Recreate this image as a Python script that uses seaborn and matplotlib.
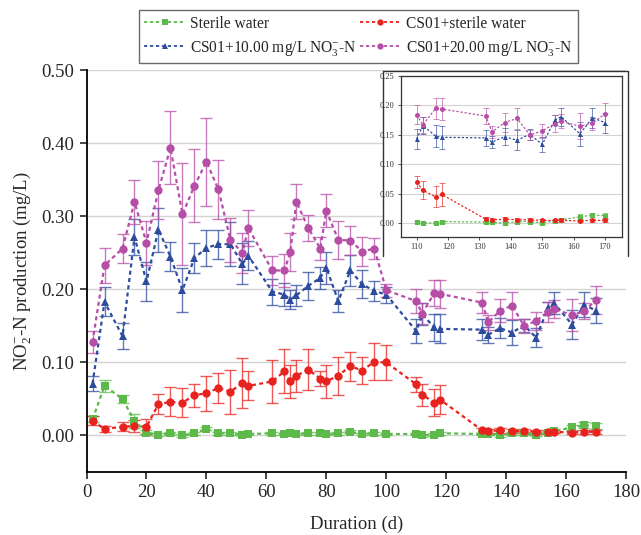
import numpy as np
import pandas as pd
import matplotlib
matplotlib.use("Agg")
import matplotlib.pyplot as plt
import seaborn as sns
from matplotlib.lines import Line2D
from matplotlib.patches import Rectangle

days = [2, 6, 12, 16, 20, 24, 28, 32, 36, 40, 44, 48, 52, 54, 62, 66, 68, 70, 74, 78,
        80, 84, 88, 92, 96, 100, 110, 112, 116, 118, 132, 134, 138, 142, 146, 150,
        154, 156, 162, 166, 170]

green = [0.022, 0.068, 0.050, 0.020, 0.004, 0.001, 0.003, 0.000, 0.003, 0.009, 0.003,
         0.003, 0.001, 0.002, 0.003, 0.002, 0.003, 0.002, 0.003, 0.003, 0.002, 0.003,
         0.005, 0.002, 0.003, 0.002, 0.002, 0.000, 0.001, 0.003, 0.002, 0.002, 0.000,
         0.003, 0.003, 0.001, 0.004, 0.006, 0.011, 0.014, 0.013]
green_err = [0.004, 0.008, 0.006, 0.010, 0.003, 0.002, 0.002, 0.002, 0.002, 0.002, 0.002,
             0.002, 0.002, 0.002, 0.002, 0.002, 0.002, 0.002, 0.002, 0.002, 0.002, 0.002,
             0.002, 0.002, 0.002, 0.002, 0.002, 0.002, 0.002, 0.002, 0.002, 0.002, 0.002,
             0.002, 0.002, 0.002, 0.002, 0.003, 0.004, 0.004, 0.004]

red = [0.020, 0.009, 0.012, 0.013, 0.012, 0.043, 0.046, 0.045, 0.055, 0.058, 0.065,
       0.060, 0.072, 0.068, 0.074, 0.088, 0.074, 0.082, 0.090, 0.078, 0.074, 0.082,
       0.095, 0.089, 0.101, 0.100, 0.070, 0.056, 0.045, 0.049, 0.007, 0.006, 0.007,
       0.006, 0.006, 0.005, 0.005, 0.005, 0.004, 0.005, 0.005]
red_err = [0.006, 0.004, 0.006, 0.008, 0.010, 0.014, 0.020, 0.020, 0.016, 0.024, 0.021,
           0.030, 0.034, 0.020, 0.030, 0.030, 0.022, 0.022, 0.028, 0.010, 0.022, 0.026,
           0.020, 0.018, 0.025, 0.024, 0.010, 0.015, 0.018, 0.020, 0.003, 0.003, 0.003,
           0.003, 0.003, 0.003, 0.002, 0.002, 0.002, 0.003, 0.003]

blue = [0.071, 0.183, 0.136, 0.272, 0.211, 0.282, 0.245, 0.199, 0.243, 0.257, 0.262,
        0.262, 0.235, 0.246, 0.197, 0.193, 0.186, 0.192, 0.205, 0.216, 0.230, 0.184,
        0.226, 0.207, 0.198, 0.193, 0.143, 0.166, 0.148, 0.146, 0.145, 0.138, 0.147,
        0.141, 0.151, 0.134, 0.175, 0.181, 0.152, 0.179, 0.171]
blue_err = [0.010, 0.020, 0.018, 0.025, 0.027, 0.030, 0.020, 0.030, 0.020, 0.025, 0.020,
            0.030, 0.028, 0.020, 0.018, 0.016, 0.013, 0.014, 0.019, 0.015, 0.022, 0.015,
            0.021, 0.019, 0.014, 0.011, 0.017, 0.015, 0.019, 0.020, 0.014, 0.011, 0.014,
            0.017, 0.009, 0.013, 0.008, 0.015, 0.020, 0.017, 0.017]

purple = [0.128, 0.233, 0.256, 0.320, 0.264, 0.336, 0.394, 0.303, 0.342, 0.375, 0.337,
          0.268, 0.250, 0.284, 0.226, 0.226, 0.251, 0.320, 0.284, 0.256, 0.308, 0.268,
          0.267, 0.252, 0.256, 0.199, 0.184, 0.167, 0.195, 0.194, 0.182, 0.155, 0.171,
          0.178, 0.150, 0.157, 0.169, 0.173, 0.165, 0.170, 0.186]
purple_err = [0.015, 0.024, 0.020, 0.030, 0.030, 0.040, 0.050, 0.070, 0.050, 0.060, 0.040,
              0.030, 0.027, 0.025, 0.020, 0.023, 0.026, 0.024, 0.018, 0.016, 0.023, 0.026,
              0.020, 0.020, 0.014, 0.009, 0.016, 0.014, 0.018, 0.019, 0.014, 0.010, 0.016,
              0.018, 0.009, 0.012, 0.014, 0.012, 0.022, 0.011, 0.019]

series_names = ["Sterile water", "CS01+sterile water",
                "CS01+10.00 mg/L NO$_3^{-}$-N", "CS01+20.00 mg/L NO$_3^{-}$-N"]
series_vals = [green, red, blue, purple]
series_errs = [green_err, red_err, blue_err, purple_err]
colors = ["#5cb94a", "#e8231f", "#2d4c9e", "#b64ea7"]
markers = ["s", "o", "^", "o"]

x_ticks = [0, 20, 40, 60, 80, 100, 120, 140, 160, 180]
y_ticks = [0.00, 0.10, 0.20, 0.30, 0.40, 0.50]
inset_x_ticks = [110, 120, 130, 140, 150, 160, 170]
inset_y_ticks = [0.00, 0.05, 0.10, 0.15, 0.20, 0.25]

rows = []
for name, vals in zip(series_names, series_vals):
    for d, v in zip(days, vals):
        rows.append({"day": d, "value": v, "series": name})
df = pd.DataFrame(rows)

sns.set_style("white")
plt.rcParams["font.family"] = ["Liberation Serif", "DejaVu Serif"]
plt.rcParams["mathtext.fontset"] = "custom"
plt.rcParams["mathtext.rm"] = "Liberation Serif"
plt.rcParams["mathtext.it"] = "Liberation Serif:italic"

fig = plt.figure(figsize=(6.41, 5.35), dpi=100)
ax = fig.add_axes([0.135, 0.1178, 0.8417, 0.7505])

palette = dict(zip(series_names, colors))
mk = dict(zip(series_names, markers))
dsh = {n: (1.8, 1.5) for n in series_names}


def draw(axis, data, lw, ms, capsize, elw):
    keep = set(data["day"])
    for name, vals, errs, c in zip(series_names, series_vals, series_errs, colors):
        sub = [(d, v, e) for d, v, e in zip(days, vals, errs) if d in keep]
        xs = [s[0] for s in sub]
        ys = [s[1] for s in sub]
        es = [s[2] for s in sub]
        axis.errorbar(xs, ys, yerr=es, fmt="none", ecolor=c, alpha=0.75,
                      elinewidth=elw, capsize=capsize, capthick=elw, zorder=2)
    sns.lineplot(data=data, x="day", y="value", hue="series", style="series",
                 hue_order=series_names, style_order=series_names,
                 palette=palette, markers=mk, dashes=dsh, linewidth=lw,
                 markersize=ms, markeredgewidth=0, legend=False, ax=axis, zorder=3)


draw(ax, df, 1.6, 6, 4.5, 1.0)

ax.set_xlim(0, 180)
ax.set_ylim(-0.05, 0.50)
ax.set_xticks(x_ticks)
ax.set_yticks(y_ticks)
ax.set_yticklabels([f"{t:.2f}" for t in y_ticks])
ax.grid(axis="y", color="#d4d4d4", linewidth=1.0)
ax.grid(axis="x", visible=False)
for s in ["top", "right"]:
    ax.spines[s].set_visible(False)
for s in ["left", "bottom"]:
    ax.spines[s].set_color("black")
    ax.spines[s].set_linewidth(1.3)
ax.tick_params(axis="both", direction="out", length=5, width=1.2, labelsize=13.5,
               left=True, bottom=True, pad=4)
ax.set_xlabel("Duration (d)", fontsize=13.5, labelpad=10)
ax.set_ylabel("NO$_2^{-}$-N production (mg/L)", fontsize=13.5, labelpad=6)

# inset background frame
fx0, fx1, fy0, fy1 = 383 / 641, 628 / 641, 1 - 256 / 535, 1 - 71 / 535
fig.patches.append(Rectangle((fx0, fy0), fx1 - fx0, fy1 - fy0, transform=fig.transFigure,
                             facecolor="white", edgecolor="none", zorder=1))
for xs_, ys_ in [([fx0, fx1], [fy1, fy1]), ([fx0, fx0], [fy0, fy1]), ([fx1, fx1], [fy0, fy1])]:
    fig.lines.append(Line2D(xs_, ys_, transform=fig.transFigure, color="#333333",
                            linewidth=1.0, zorder=1.5))

iax = fig.add_axes([401 / 641, 1 - 236.7 / 535, 221 / 641, 160.7 / 535])
iax.set_zorder(2)
draw(iax, df[df["day"] >= 110], 0.9, 3.6, 2.2, 0.6)
iax.set_xlim(105, 175.4)
iax.set_ylim(-0.0227, 0.25)
iax.set_xticks(inset_x_ticks)
iax.set_yticks(inset_y_ticks)
iax.set_yticklabels([f"{t:.2f}" for t in inset_y_ticks])
iax.grid(axis="y", color="#d4d4d4", linewidth=0.8)
iax.grid(axis="x", visible=False)
for s in iax.spines.values():
    s.set_color("#333333")
    s.set_linewidth(0.9)
iax.tick_params(axis="both", direction="out", length=2.5, width=0.6, labelsize=6,
                left=True, bottom=True, pad=2, colors="#333333")
iax.set_xlabel("")
iax.set_ylabel("")

# legend
handles = []
for c, m in zip(colors, markers):
    handles.append(Line2D([0], [0], color=c, marker=m, linestyle=(0, (1.8, 1.5)),
                          linewidth=1.3, markersize=4.5, markeredgewidth=0))
order = [0, 2, 1, 3]
leg = fig.legend([handles[i] for i in order], [series_names[i] for i in order],
                 ncol=2, loc="upper center", bbox_to_anchor=(0.559, 0.981),
                 borderaxespad=0.0,
                 frameon=True, fancybox=False, fontsize=11.2, handlelength=2.6,
                 handletextpad=0.35, columnspacing=0.2, borderpad=0.35,
                 labelspacing=0.45)
leg.get_frame().set_edgecolor("#444444")
leg.get_frame().set_linewidth(1.0)

fig.savefig("out.png", dpi=100)
